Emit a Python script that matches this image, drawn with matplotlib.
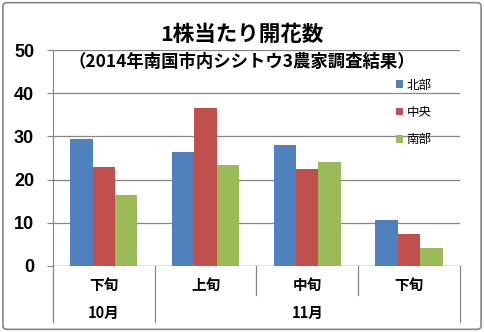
import numpy as np
import matplotlib.pyplot as plt
from matplotlib.patches import FancyBboxPatch

plt.rcParams['font.family'] = ['Noto Sans CJK JP', 'DejaVu Sans']

# --- data ---
periods = ['下旬', '上旬', '中旬', '下旬']
months = ['10月', '11月']
month_spans = [(0, 1), (1, 4)]  # category index ranges for each month
series = ['北部', '中央', '南部']
north = [29.5, 26.3, 28.0, 10.7]
center = [23.0, 36.5, 22.5, 7.5]
south = [16.5, 23.5, 24.0, 4.2]
colors = ['#4F81BD', '#C0504D', '#9BBB59']

fig = plt.figure(figsize=(4.84, 3.32), dpi=100)
ax = fig.add_axes([0.1095, 0.199, 0.8405, 0.650])

x = np.arange(len(periods))
w = 0.22
for k, (vals, c, name) in enumerate(zip([north, center, south], colors, series)):
    ax.bar(x + (k - 1) * w, vals, width=w, color=c, label=name, zorder=3)

ax.set_xlim(-0.5, len(periods) - 0.5)
ax.set_ylim(0, 50)
ax.set_yticks(range(0, 51, 10))
ax.set_yticklabels([str(v) for v in range(0, 51, 10)], fontsize=13,
                   fontweight='bold', family=['Liberation Sans', 'DejaVu Sans'])
ax.tick_params(axis='y', length=4.5, color='#868686', pad=9)
ax.set_xticks([])
ax.yaxis.grid(True, color='#868686', linewidth=0.9, zorder=0)
for s in ['top', 'right', 'bottom']:
    ax.spines[s].set_visible(False)
ax.spines['left'].set_color('#868686')

ax.axhline(0, color='#868686', linewidth=0.9, zorder=4)

# category axis labels (two levels)
tr = ax.get_xaxis_transform()
for i, p in enumerate(periods):
    ax.text(i, -0.088, p, transform=tr, ha='center', va='center',
            fontsize=10.5, fontweight='bold')
for m, (a, b) in zip(months, month_spans):
    ax.text((a + b - 1) / 2, -0.218, m, transform=tr, ha='center', va='center',
            fontsize=10.5, fontweight='bold')
bounds = [-0.5 + i for i in range(len(periods) + 1)]
month_edges = [-0.5 + a for a, b in month_spans] + [-0.5 + month_spans[-1][1]]
for bx in bounds:
    low = -0.259 if bx in month_edges else -0.134
    ax.plot([bx, bx], [0, low], transform=tr, color='#868686',
            linewidth=0.9, clip_on=False)

# titles
fig.text(0.5, 0.895, '1株当たり開花数', ha='center', va='center',
         fontsize=15.5, fontweight='bold')
fig.text(0.5, 0.812, '（2014年南国市内シシトウ3農家調査結果）', ha='center',
         va='center', fontsize=12.5, fontweight='bold')

# legend
leg = ax.legend(loc='upper left', bbox_to_anchor=(0.815, 0.92), frameon=False,
                fontsize=9, handlelength=0.55, handleheight=0.55,
                handletextpad=0.3, labelspacing=1.15)

# outer border
fig.patches.append(FancyBboxPatch((0.006, 0.008), 0.988, 0.984,
                                  boxstyle='round,pad=0,rounding_size=0.01',
                                  transform=fig.transFigure, fill=False,
                                  edgecolor='#868686', linewidth=1.2))

fig.savefig('out.png', dpi=100)
